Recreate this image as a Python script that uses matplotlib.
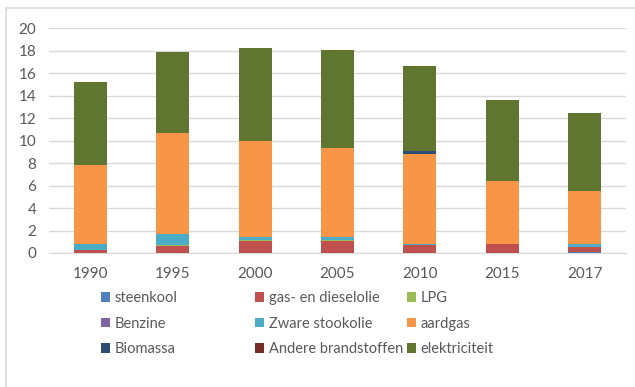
import matplotlib
matplotlib.use("Agg")
import matplotlib.pyplot as plt
from matplotlib.patches import Patch
from matplotlib.lines import Line2D
import numpy as np

plt.rcParams['font.family'] = ['Lato', 'DejaVu Sans']

years = ['1990', '1995', '2000', '2005', '2010', '2015', '2017']

# stacked from bottom to top
steenkool       = [0.02, 0.00, 0.00, 0.00, 0.00, 0.00, 0.12]
gas_dieselolie  = [0.26, 0.65, 1.08, 1.08, 0.70, 0.80, 0.40]
lpg             = [0.01, 0.02, 0.05, 0.04, 0.03, 0.04, 0.02]
benzine         = [0.00, 0.00, 0.00, 0.00, 0.00, 0.00, 0.00]
zware_stookolie = [0.55, 1.02, 0.25, 0.26, 0.05, 0.00, 0.23]
aardgas         = [6.95, 9.00, 8.56, 7.97, 8.07, 5.56, 4.75]
biomassa        = [0.00, 0.00, 0.00, 0.00, 0.25, 0.03, 0.03]
andere          = [0.00, 0.00, 0.00, 0.00, 0.00, 0.00, 0.00]
elektriciteit   = [7.45, 7.20, 8.32, 8.75, 7.50, 7.20, 6.95]

series = [
    ('steenkool', steenkool, '#4F81BD'),
    ('gas- en dieselolie', gas_dieselolie, '#C0504D'),
    ('LPG', lpg, '#9BBB59'),
    ('Benzine', benzine, '#8064A2'),
    ('Zware stookolie', zware_stookolie, '#4BACC6'),
    ('aardgas', aardgas, '#F79646'),
    ('Biomassa', biomassa, '#2C4D75'),
    ('Andere brandstoffen', andere, '#772C2A'),
    ('elektriciteit', elektriciteit, '#5F7530'),
]

txt = '#595959'
grid = '#D9D9D9'

fig = plt.figure(figsize=(6.35, 3.87), dpi=100)
ax = fig.add_axes([49/635, 1-253/387, 577/635, 224.7/387])

x = np.arange(len(years))
bottom = np.zeros(len(years))
handles = []
for name, vals, col in series:
    ax.bar(x, vals, width=0.4, bottom=bottom, color=col, zorder=3)
    bottom += np.array(vals)
    handles.append(Patch(facecolor=col, label=name))

ax.set_xlim(-0.5, len(years) - 0.5)
ax.set_ylim(0, 20)
ax.set_yticks(range(0, 21, 2))
ax.set_xticks(x)
ax.set_xticklabels(years)
ax.yaxis.grid(True, color=grid, linewidth=1, zorder=0)
for s in ['top', 'right', 'left']:
    ax.spines[s].set_visible(False)
ax.spines['bottom'].set_color(grid)
ax.tick_params(axis='both', length=0, labelsize=11, colors=txt)
ax.tick_params(axis='y', pad=9)
ax.tick_params(axis='x', pad=10)

# legend: three columns of three entries, each column placed on its own
col_x = [101, 255, 407]
for c in range(3):
    hs = handles[c::3]
    fig.legend(hs, [h.get_label() for h in hs], loc='upper left',
               bbox_to_anchor=(col_x[c]/635, 1-291/387),
               frameon=False, fontsize=10.5, labelcolor=txt,
               borderpad=0, borderaxespad=0,
               handlelength=0.65, handleheight=0.65, handletextpad=0.3,
               labelspacing=0.8)

# outer frame of the chart area
fig.add_artist(Line2D([6/635, 6/635], [0, 1-8/387], color=grid, linewidth=1.2,
                      transform=fig.transFigure))
fig.add_artist(Line2D([6/635, 1], [1-8/387, 1-8/387], color=grid, linewidth=1.2,
                      transform=fig.transFigure))

fig.savefig('out.png', dpi=100)
